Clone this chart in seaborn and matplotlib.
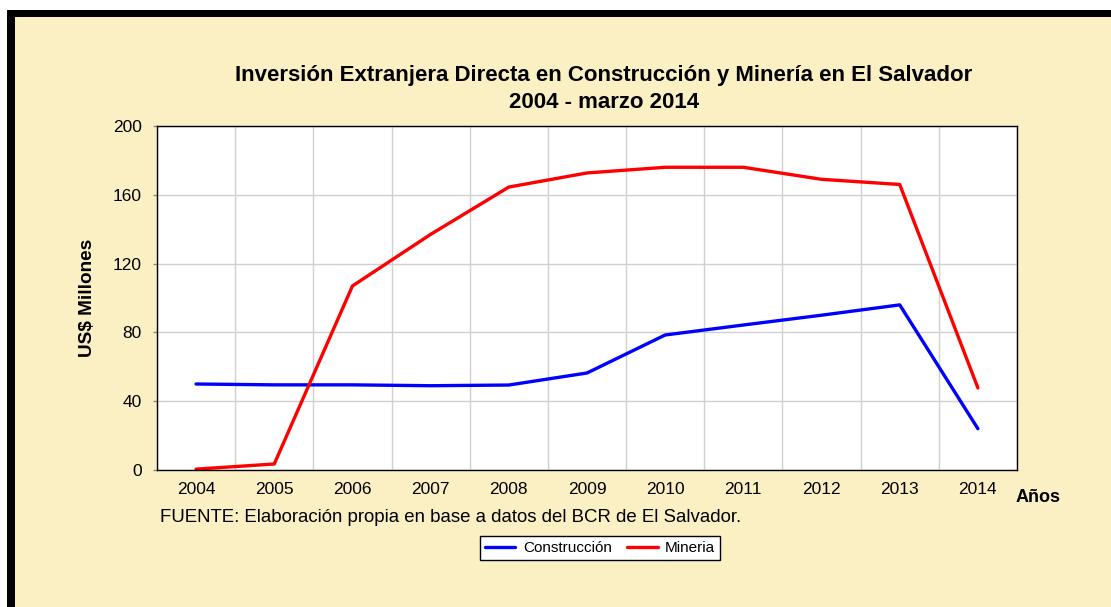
import pandas as pd
import numpy as np
import matplotlib.pyplot as plt
import matplotlib.patches as mpatches
import seaborn as sns

# data
years = [2004, 2005, 2006, 2007, 2008, 2009, 2010, 2011, 2012, 2013, 2014]
construccion = [50, 49.5, 49.5, 49, 49.4, 56.4, 78.5, 84.3, 90, 96, 24]
mineria = [0.5, 3.5, 107, 137, 164.5, 172.7, 176, 176, 169, 166, 47.7]
series_names = ["Construcción", "Mineria"]
y_ticks = [0, 40, 80, 120, 160, 200]

df = pd.DataFrame({
    "year": years * 2,
    "value": construccion + mineria,
    "serie": [series_names[0]] * len(years) + [series_names[1]] * len(years),
})

sns.set_style("white")
plt.rcParams["font.family"] = ["Liberation Sans", "DejaVu Sans"]
plt.rcParams["text.color"] = "black"
plt.rcParams["xtick.color"] = "black"
plt.rcParams["ytick.color"] = "black"

W, H = 1111, 607
bg = "#FBF0C4"
fig = plt.figure(figsize=(W / 100, H / 100), dpi=100)
fig.patch.set_facecolor("white")

# yellow panel with thick black top/left border
fig.patches.append(mpatches.Rectangle((7 / W, 0), 1, 1 - 10 / H, transform=fig.transFigure,
                                      facecolor=bg, edgecolor="none", zorder=-3))
fig.patches.append(mpatches.Rectangle((7 / W, 1 - 17 / H), 1, 7 / H, transform=fig.transFigure,
                                      facecolor="black", edgecolor="none", zorder=-2))
fig.patches.append(mpatches.Rectangle((7 / W, 0), 8 / W, 1 - 10 / H, transform=fig.transFigure,
                                      facecolor="black", edgecolor="none", zorder=-2))

left, right, top, bottom = 157, 1017, 126, 470
ax = fig.add_axes([left / W, 1 - bottom / H, (right - left) / W, (bottom - top) / H])
ax.set_facecolor("white")

sns.lineplot(data=df, x="year", y="value", hue="serie",
             palette={"Construcción": "#0000FF", "Mineria": "#FF0000"},
             linewidth=2.4, ax=ax, legend=False)

ax.set_xlim(2003.5, 2014.5)
ax.set_ylim(0, 200)
ax.set_xticks(years)
ax.set_xticklabels([str(y) for y in years], fontsize=12.5)
ax.set_xticks(np.arange(2003.5, 2015, 1), minor=True)
ax.set_yticks(y_ticks)
ax.set_yticklabels([str(v) for v in y_ticks], fontsize=12.5)
ax.tick_params(axis="x", which="major", length=0, pad=9)
ax.tick_params(axis="x", which="minor", length=7, width=1, color="#888888")
ax.tick_params(axis="y", which="major", length=3, width=1, color="#888888", pad=8, left=True)
ax.grid(False)
ax.grid(True, axis="x", which="minor", color="#D0D0D0", linewidth=1)
ax.grid(True, axis="y", which="major", color="#D0D0D0", linewidth=1)
ax.set_axisbelow(True)
for s in ax.spines.values():
    s.set_color("black")
    s.set_linewidth(1)
ax.set_xlabel("")
ax.set_ylabel("")

fig.text(604 / W, 1 - 75 / H, "Inversión Extranjera Directa en Construcción y Minería en El Salvador",
         ha="center", va="center", fontsize=16, fontweight="bold")
fig.text(604 / W, 1 - 102 / H, "2004 - marzo 2014",
         ha="center", va="center", fontsize=16, fontweight="bold")
fig.text(88 / W, 1 - 298 / H, "US$ Millones", rotation=90,
         ha="center", va="center", fontsize=13.7, fontweight="bold")
fig.text(1016 / W, 1 - 498 / H, "Años", ha="left", va="center",
         fontsize=13, fontweight="bold")
fig.text(160 / W, 1 - 517 / H, "FUENTE: Elaboración propia en base a datos del BCR de El Salvador.",
         ha="left", va="center", fontsize=13.4)

handles = [plt.Line2D([], [], color="#0000FF", lw=2.4),
           plt.Line2D([], [], color="#FF0000", lw=2.4)]
leg = fig.legend(handles, series_names, loc="center", bbox_to_anchor=(600 / W, 1 - 548 / H),
                 ncol=2, fontsize=11, frameon=True, fancybox=False, framealpha=1,
                 edgecolor="black", handlelength=2.0, columnspacing=1.0,
                 borderpad=0.3, handletextpad=0.5)
leg.get_frame().set_linewidth(1)

fig.savefig("out.png", dpi=100, facecolor=fig.get_facecolor())
